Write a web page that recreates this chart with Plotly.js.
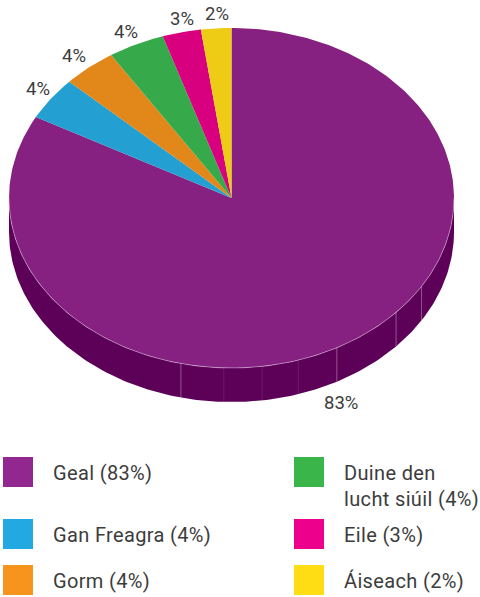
<!DOCTYPE html>
<html><head><meta charset="utf-8">
<script src="https://cdn.plot.ly/plotly-3.0.1.min.js"></script>
<style>html,body{margin:0;padding:0;background:#fff}#c{width:480px;height:597px}</style>
</head><body><div id="c"></div>
<script>
// Data
const categories = ["Geal","Gan Freagra","Gorm","Duine den<br>lucht siúil","Eile","Áiseach"];
const values = [82.9,4.1,3.9,4.1,2.8,2.2];
const sliceColors = ["#862181","#239fd2","#e2881a","#36a94a","#d8007f","#eecb14"];
const legendColors = ["#92278f","#22a9e1","#f7941d","#39b54a","#ec008c","#ffdd15"];
const seamPercents = [33.7,36.75,42.15,45.15,47.8,50.55,53.65]; // visible facet edges on the rim

// Styling / layout
const wallColor = "#5c0058", edgeColor = "rgba(222,190,222,0.75)", textColor = "#3c3c3c";
const FONT = "Roboto, 'DejaVu Sans', sans-serif";
const W = 480, H = 597, CX = 231.5, CY = 198, RX = 222.5, RY = 170, DEPTH = 34 / 170;
const labelShift = [[-4,-59],[-13,10],[-15,11],[-10,12],[0,13],[1,14]];
const legendPos = [[3,457],[3,519],[3,565],[294,457],[294,519],[294,565]];
const legendTextDX = 48.5, SW = 30;

const total = values.reduce((a,b)=>a+b,0);
const rim = p => [Math.sin(2*Math.PI*p/total), Math.cos(2*Math.PI*p/total)];
function arc(a,b,dy){
  const n = Math.max(2, Math.ceil((b-a)*4)), xs=[], ys=[];
  for(let i=0;i<=n;i++){const [x,y]=rim(a+(b-a)*i/n); xs.push(x); ys.push(y-dy);}
  return [xs,ys];
}
const traces = [];
// Side wall: the front half of the rim
{
  const [x1,y1]=arc(total/4,3*total/4,0), [x2,y2]=arc(total/4,3*total/4,DEPTH);
  traces.push({type:"scatter",mode:"lines",x:x1.concat(x2.reverse()),y:y1.concat(y2.reverse()),
    fill:"toself",fillcolor:wallColor,line:{width:0},hoverinfo:"skip"});
}
seamPercents.forEach(p=>{
  const [x,y]=rim(p);
  traces.push({type:"scatter",mode:"lines",x:[x,x],y:[y,y-DEPTH],
    line:{color:p>45&&p<52?"rgba(222,190,222,0.16)":"rgba(222,190,222,0.55)",width:0.8},hoverinfo:"skip"});
});
// Top slices
let cum=0; const annotations=[], shapes=[];
values.forEach((v,i)=>{
  const [ax,ay]=arc(cum,cum+v,0);
  traces.push({type:"scatter",mode:"lines",x:[0].concat(ax,[0]),y:[0].concat(ay,[0]),
    fill:"toself",fillcolor:sliceColors[i],line:{width:0},hoverinfo:"skip"});
  const [mx,my]=rim(cum+v/2);
  annotations.push({x:mx,y:my,xref:"x",yref:"y",text:Math.round(v)+"%",showarrow:false,
    xshift:labelShift[i][0],yshift:labelShift[i][1],
    font:{family:FONT,size:18.5,color:textColor}});
  cum+=v;
});
// Light edge between top and wall
{
  const [x,y]=arc(total/4,3*total/4,0);
  traces.push({type:"scatter",mode:"lines",x,y,line:{color:edgeColor,width:0.7},hoverinfo:"skip"});
}
// Legend
categories.forEach((c,i)=>{
  const [lx,ly]=legendPos[i];
  shapes.push({type:"rect",xref:"paper",yref:"paper",x0:lx/W,x1:(lx+SW)/W,y0:1-ly/H,y1:1-(ly+SW)/H,
    fillcolor:legendColors[i],line:{width:0}});
  annotations.push({xref:"paper",yref:"paper",x:(lx+legendTextDX)/W,y:1-(ly+2.5)/H,
    xanchor:"left",yanchor:"top",align:"left",showarrow:false,
    text:c+" ("+Math.round(values[i])+"%)",font:{family:FONT,size:20,color:textColor},borderpad:0});
});
const layout = {
  width:W,height:H,margin:{l:0,r:0,t:0,b:0},paper_bgcolor:"#fff",plot_bgcolor:"#fff",showlegend:false,
  xaxis:{range:[-CX/RX,(W-CX)/RX],visible:false,fixedrange:true},
  yaxis:{range:[-(H-CY)/RY,CY/RY],visible:false,fixedrange:true},
  annotations,shapes
};
Plotly.newPlot("c",traces,layout,{displayModeBar:false,staticPlot:true}).then(()=>{
  document.querySelectorAll("#c .annotation").forEach((g,i)=>{
    if(i>=values.length) g.style.letterSpacing="0.35px";
  });
});
</script></body></html>
